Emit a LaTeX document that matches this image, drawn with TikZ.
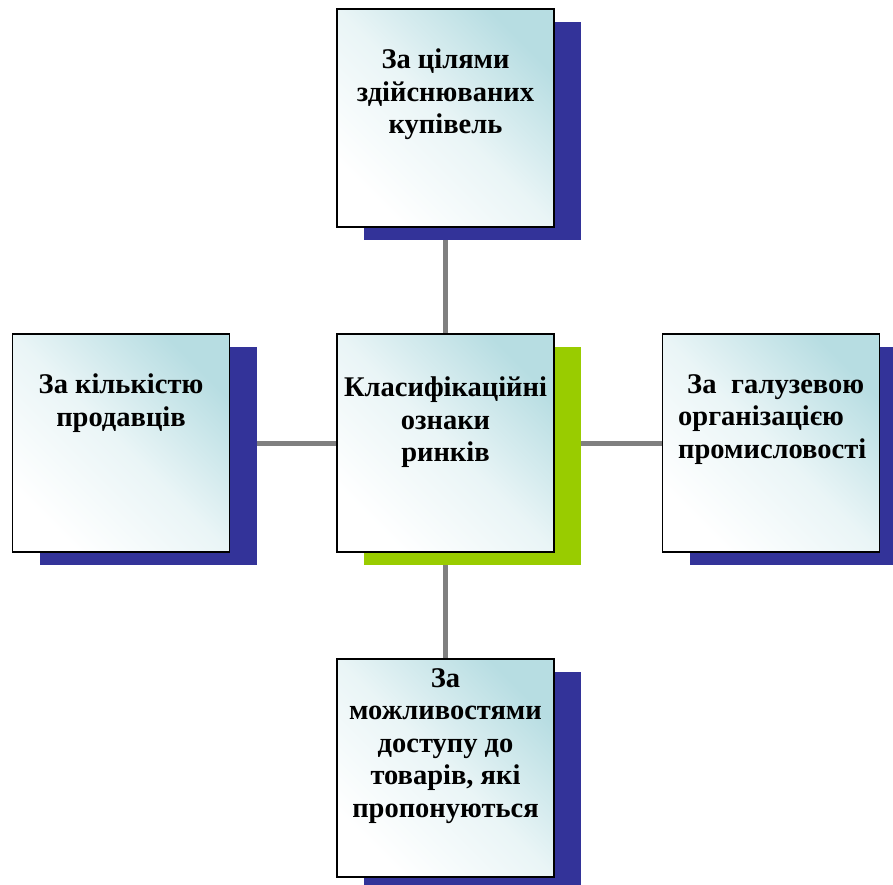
\documentclass[tikz,border=0pt]{standalone}
\usepackage{fontspec}
\setmainfont{Liberation Serif}
\usetikzlibrary{shadows,backgrounds}
\definecolor{tealc}{RGB}{183,221,226}
\definecolor{shblue}{RGB}{51,51,153}
\definecolor{shgreen}{RGB}{153,204,0}
\definecolor{linkgray}{RGB}{128,128,128}
\tikzset{
  box/.style={draw=black, line width=1.6pt, minimum width=217pt, minimum height=218pt,
    inner sep=0pt, top color=tealc, bottom color=white, middle color=tealc!30!white,
    shading angle=-45},
  blueshadow/.style={general shadow={fill=shblue, shadow xshift=27pt, shadow yshift=-13pt}},
  greenshadow/.style={general shadow={fill=shgreen, shadow xshift=27pt, shadow yshift=-13pt}},
  lbl/.style={inner sep=0pt, align=center, font=\bfseries\fontsize{28.5}{32.5}\selectfont},
  link/.style={draw=linkgray, line width=5pt}
}
\begin{document}
\begin{tikzpicture}[x=1pt,y=-1pt]
\clip (0,0) rectangle (893,884);
\node[box, blueshadow] (top) at (445.5,118) {};
\node[box, greenshadow] (ctr) at (445.5,443) {};
\node[box, blueshadow] (lft) at (121,443) {};
\node[box, blueshadow] (rgt) at (771,443) {};
\node[box, blueshadow] (bot) at (445.5,768) {};
\node[lbl, anchor=north] (ttop) at (445.5,49) {За цілями\\здійснюваних\\купівель};
\node[lbl, anchor=north] (tctr) at (445.5,377) {Класифікаційні\\ознаки\\ринків};
\node[lbl, anchor=north] (tlft) at (121,374) {За кількістю\\продавців};
\node[lbl, anchor=north west, align=left, text width=186pt] (trgt) at (678,374) {\hspace*{9pt}За\hfill галузевою\\організацією\\промисловості};
\node[lbl, anchor=north] (tbot) at (445.5,668) {За\\можливостями\\доступу до\\товарів, які\\пропонуються};
\begin{scope}[on background layer]
\draw[link] (top.south) -- (ctr.north);
\draw[link] (ctr.south) -- (bot.north);
\draw[link] (lft.east) -- (ctr.west);
\draw[link] (ctr.east) -- (rgt.west);
\end{scope}
\end{tikzpicture}
\end{document}
